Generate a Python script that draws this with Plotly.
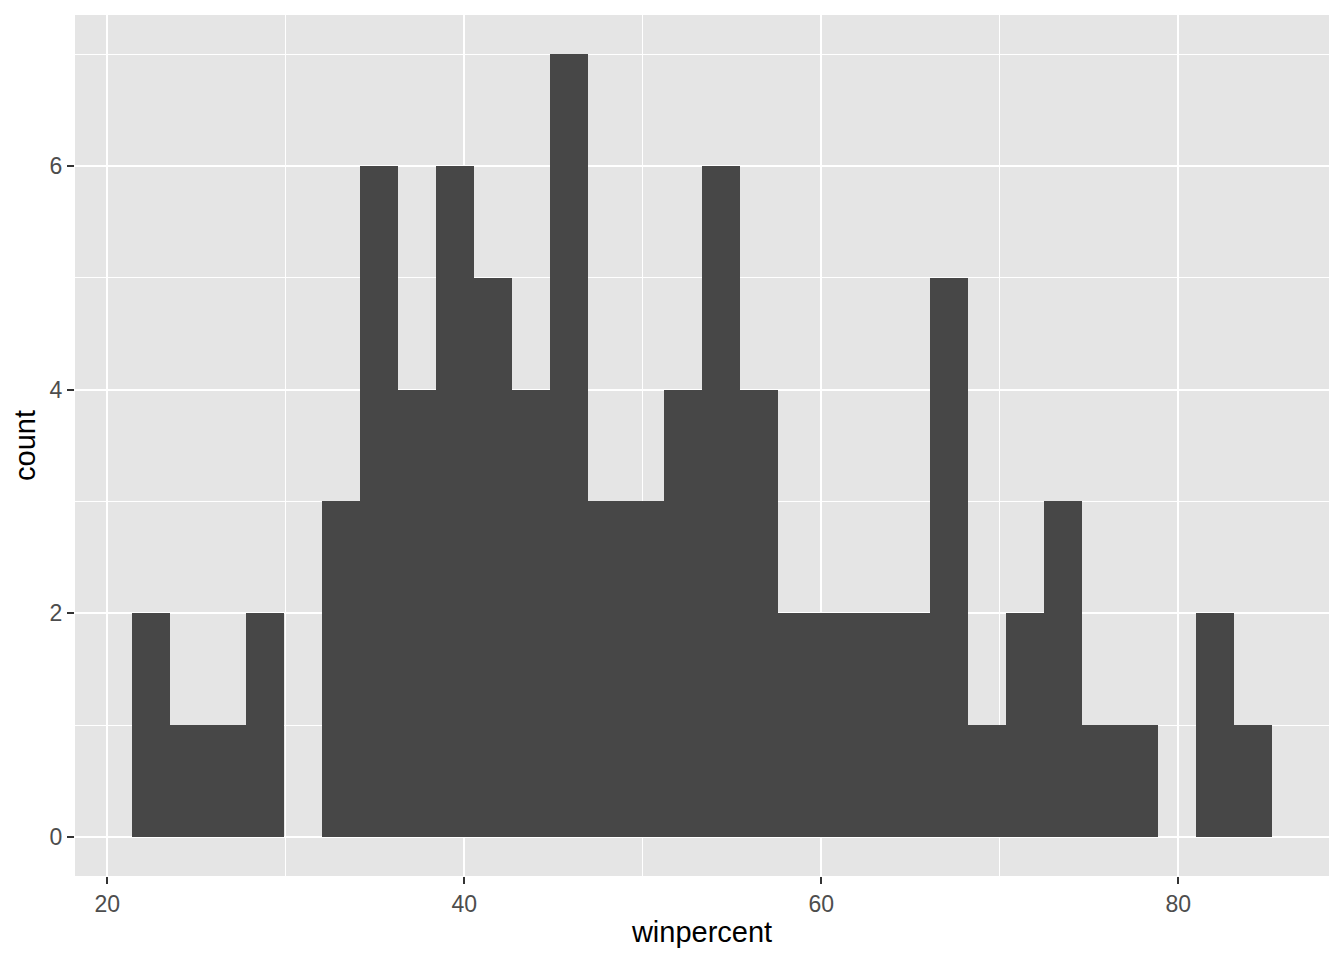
import plotly.graph_objects as go

# Data: histogram of winpercent, 30 bins (ggplot default), centered so first/last bin centres are min/max
win_min = 22.445341
win_max = 84.180290
n_bins = 30
counts = [2, 1, 1, 2, 0, 3, 6, 4, 6, 5, 4, 7, 3, 3, 4, 6, 4, 2, 2, 2, 2, 5, 1, 2, 3, 1, 1, 0, 2, 1]
x_ticks = [20, 40, 60, 80]
y_ticks = [0, 2, 4, 6]

bw = (win_max - win_min) / (n_bins - 1)
centers = [win_min + i * bw for i in range(n_bins)]

lo = win_min - bw / 2
hi = win_max + bw / 2
span = hi - lo
xr = [lo - 0.05 * span, hi + 0.05 * span]
ymax = max(counts)
yr = [-0.05 * ymax, ymax * 1.05]

fig = go.Figure(go.Bar(
    x=centers, y=counts, width=bw,
    marker=dict(color="#474747", line=dict(width=0)),
    hoverinfo="x+y",
))

font = "Liberation Sans, Arial, sans-serif"
fig.update_layout(
    width=1344, height=960,
    margin=dict(l=75, r=15, t=15, b=84),
    paper_bgcolor="white", plot_bgcolor="#E5E5E5",
    showlegend=False, bargap=0,
    font=dict(family=font, color="black"),
)
fig.update_xaxes(
    range=xr, tickvals=x_ticks, ticktext=[str(v) for v in x_ticks],
    showgrid=True, gridcolor="white", gridwidth=2.4,
    minor=dict(tickvals=[30, 50, 70], showgrid=True, gridcolor="white", gridwidth=1.2, ticklen=0),
    zeroline=False, showline=False,
    ticks="outside", ticklen=7, tickwidth=2, tickcolor="#333333",
    tickfont=dict(size=23, color="#4D4D4D", family=font),
    title=dict(text="winpercent", font=dict(size=29, color="black", family=font), standoff=6),
)
fig.update_yaxes(
    range=yr, tickvals=y_ticks, ticktext=[str(v) for v in y_ticks],
    showgrid=True, gridcolor="white", gridwidth=2.4,
    minor=dict(tickvals=[1, 3, 5, 7], showgrid=True, gridcolor="white", gridwidth=1.2, ticklen=0),
    zeroline=False, showline=False,
    ticks="outside", ticklen=7, tickwidth=2, tickcolor="#333333",
    tickfont=dict(size=23, color="#4D4D4D", family=font),
    title=dict(text="count", font=dict(size=29, color="black", family=font), standoff=5),
)

fig.write_html(
    "out.html",
    config={"displayModeBar": False},
    post_script="document.body.style.margin='0';document.body.style.overflow='hidden';",
)
